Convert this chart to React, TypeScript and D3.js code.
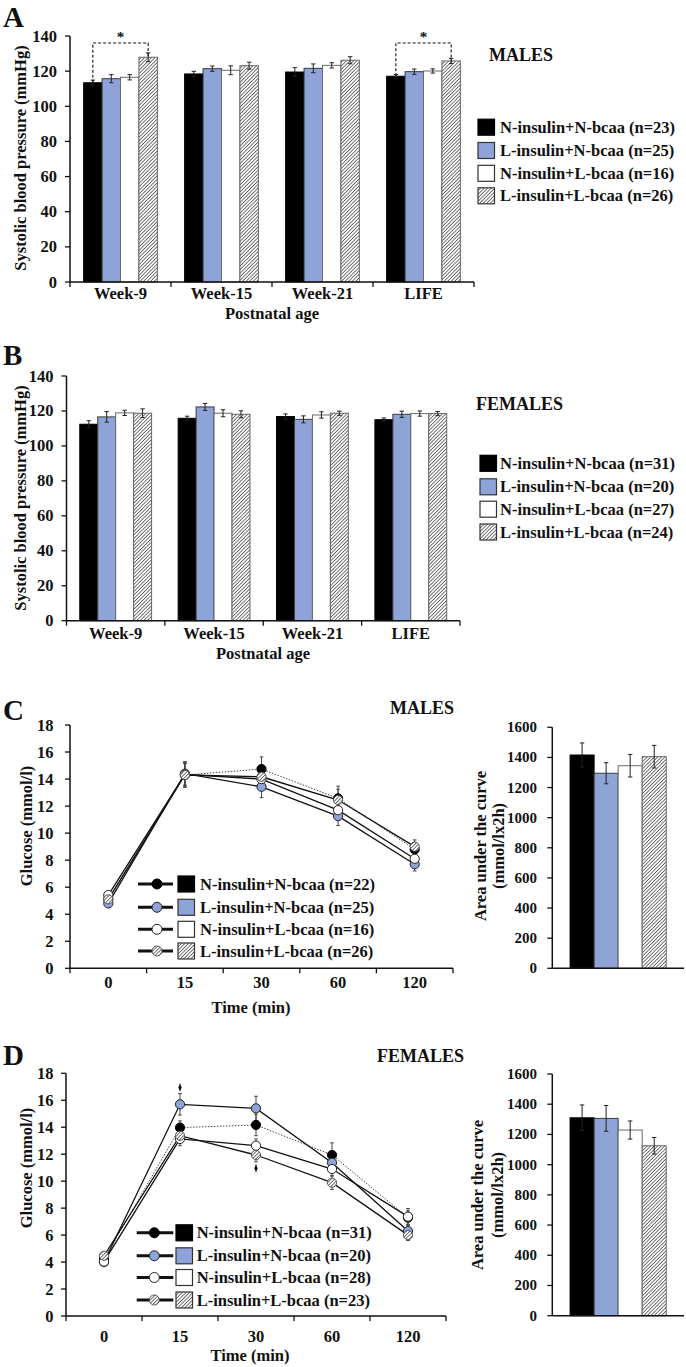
import React from "react";
import * as d3 from "d3";

// ---------------- DATA ----------------
const GROUPS = ["N-insulin+N-bcaa", "L-insulin+N-bcaa", "N-insulin+L-bcaa", "L-insulin+L-bcaa"];
const AGES = ["Week-9", "Week-15", "Week-21", "LIFE"];
const TIMES = ["0", "15", "30", "60", "120"];
const SBP_TICKS = [0, 20, 40, 60, 80, 100, 120, 140];
const GLU_TICKS = [0, 2, 4, 6, 8, 10, 12, 14, 16, 18];
const AUC_TICKS = [0, 200, 400, 600, 800, 1000, 1200, 1400, 1600];

const N_A = [23, 25, 16, 26];
const N_B = [31, 20, 27, 24];
const N_C = [22, 25, 16, 26];
const N_D = [31, 20, 28, 23];

// Panel A: males systolic blood pressure (per group, across AGES)
const A_NN = [113.4, 118.4, 119.5, 117.1];
const A_LN = [115.7, 121.4, 121.6, 119.7];
const A_NL = [116.5, 120.5, 123.3, 120.1];
const A_LL = [127.9, 123.1, 126.2, 125.8];
const A_NN_SE = [1.5, 1.5, 2.5, 1.0];
const A_LN_SE = [2.3, 1.5, 2.5, 1.5];
const A_NL_SE = [1.5, 2.5, 1.5, 1.2];
const A_LL_SE = [2.5, 2.0, 2.0, 1.5];
const A_SIG = [
  { age: "Week-9", level: 136 },
  { age: "LIFE", level: 136 },
];

// Panel B: females systolic blood pressure
const B_NN = [112.4, 115.8, 116.8, 115.0];
const B_LN = [116.6, 122.3, 115.2, 118.1];
const B_NL = [118.9, 118.7, 117.7, 118.5];
const B_LL = [118.7, 118.1, 118.7, 118.5];
const B_NN_SE = [2.0, 1.2, 1.5, 1.0];
const B_LN_SE = [3.0, 2.0, 2.0, 1.8];
const B_NL_SE = [1.5, 2.0, 1.8, 1.5];
const B_LL_SE = [2.5, 2.0, 1.2, 1.2];

// Panel C: males glucose tolerance (per group, across TIMES)
const C_NN = [5.1, 14.3, 14.74, 12.57, 8.8];
const C_LN = [4.8, 14.4, 13.43, 11.26, 7.7];
const C_NL = [5.42, 14.35, 14.0, 11.7, 8.1];
const C_LL = [5.1, 14.3, 14.17, 12.45, 9.0];
const C_NN_SE = [0.2, 0.9, 0.9, 0.9, 0.4];
const C_LN_SE = [0.2, 0.9, 0.8, 0.7, 0.5];
const C_NL_SE = [0.2, 0.8, 0.8, 0.7, 0.5];
const C_LL_SE = [0.2, 0.9, 0.7, 0.8, 0.5];
const C_AUC = [1416, 1295, 1345, 1405];
const C_AUC_SE = [80, 70, 75, 75];

// Panel D: females glucose tolerance
const D_NN = [4.2, 13.97, 14.17, 11.94, 7.3];
const D_LN = [4.0, 15.7, 15.4, 11.37, 6.3];
const D_NL = [4.03, 13.13, 12.63, 10.9, 7.37];
const D_LL = [4.47, 13.37, 11.94, 9.89, 6.0];
const D_NN_SE = [0.2, 0.5, 0.8, 0.9, 0.5];
const D_LN_SE = [0.2, 0.8, 0.9, 0.6, 0.4];
const D_NL_SE = [0.2, 0.5, 0.5, 0.5, 0.6];
const D_LL_SE = [0.2, 0.5, 0.5, 0.5, 0.4];
const D_SIG = [
  { time: "15", value: 16.94 },
  { time: "30", value: 10.96 },
];
const D_AUC = [1310, 1306, 1229, 1125];
const D_AUC_SE = [85, 85, 60, 55];

// ---------------- STYLE ----------------
const FONT = "'Liberation Serif','Times New Roman',Times,serif";
const FILLS = ["#000000", "#8ea3d8", "#ffffff", "url(#hatch)"];
const STROKES = ["#000000", "#3a3a3a", "#6a6a6a", "#666666"];

type TP = { x: number; y: number; s?: number; a?: string; b?: string; r?: number; w?: number; children: any };
function Txt({ x, y, s = 16.5, a = "start", b = "central", r = 0, w = 700, children }: TP) {
  return (
    <text
      x={x}
      y={y}
      fontSize={s}
      textAnchor={a as any}
      dominantBaseline={b as any}
      fontFamily={FONT}
      fontWeight={w}
      fill="#111"
      transform={r ? `rotate(${r},${x},${y})` : undefined}
    >
      {children}
    </text>
  );
}

function ErrBar({ x, y1, y2, cap = 2.2, stroke = "#222", sw = 1 }: any) {
  return (
    <g stroke={stroke} strokeWidth={sw}>
      <line x1={x} x2={x} y1={y1} y2={y2} />
      <line x1={x - cap} x2={x + cap} y1={y1} y2={y1} />
      <line x1={x - cap} x2={x + cap} y1={y2} y2={y2} />
    </g>
  );
}

// grouped bar chart
function BarPanel(p: any) {
  const { x0, x1, yT, yB, max, ticks, cats, series, errs, labelX, catY, sig, tickLen = 5, tickFs = 16.5, catTicks = true } = p;
  const y = d3.scaleLinear().domain([0, max]).range([yB, yT]);
  const x = d3.scaleBand<string>().domain(cats).range([x0, x1]).paddingInner(0.27).paddingOuter(0.135);
  const xi = d3.scaleBand<string>().domain(GROUPS).range([0, x.bandwidth()]);
  const step = x.step();
  const bx = (c: string, g: number) => (x(c) as number) + (xi(GROUPS[g]) as number);
  const bw = xi.bandwidth();
  return (
    <g>
      {series.map((vals: number[], g: number) =>
        cats.map((c: string, i: number) => (
          <rect
            key={g + "-" + i}
            x={bx(c, g)}
            y={y(vals[i])}
            width={bw}
            height={yB - y(vals[i])}
            fill={FILLS[g]}
            stroke={STROKES[g]}
            strokeWidth={1}
          />
        ))
      )}
      {series.map((vals: number[], g: number) =>
        cats.map((c: string, i: number) => (
          <ErrBar key={"e" + g + "-" + i} x={bx(c, g) + bw / 2} y1={y(vals[i] - errs[g][i])} y2={y(vals[i] + errs[g][i])} />
        ))
      )}
      {sig &&
        sig.map((s: any, k: number) => {
          const i = cats.indexOf(s.age);
          const xa = bx(s.age, 0) + bw / 2;
          const xb = bx(s.age, 3) + bw / 2;
          return (
            <g key={"s" + k}>
              <path
                d={`M${xa},${y(series[0][i])} V${y(s.level)} H${xb} V${y(series[3][i])}`}
                fill="none"
                stroke="#111"
                strokeWidth={1.1}
                strokeDasharray="3,2"
              />
              <Txt x={(xa + xb) / 2} y={y(s.level) - 6} s={15} a="middle">*</Txt>
            </g>
          );
        })}
      {/* axes */}
      <line x1={x0} x2={x0} y1={yT} y2={yB} stroke="#111" strokeWidth={1.5} />
      <line x1={x0} x2={x1} y1={yB} y2={yB} stroke="#111" strokeWidth={1.5} />
      {ticks.map((t: number) => (
        <g key={"t" + t}>
          <line x1={x0 - tickLen} x2={x0} y1={y(t)} y2={y(t)} stroke="#111" strokeWidth={1.3} />
          <Txt x={labelX} y={y(t)} a="end" s={tickFs}>{t}</Txt>
        </g>
      ))}
      {catTicks &&
        d3.range(cats.length + 1).map((k) => (
          <line key={"ct" + k} x1={x0 + k * step} x2={x0 + k * step} y1={yB} y2={yB + 5} stroke="#111" strokeWidth={1.3} />
        ))}
      {catY != null &&
        cats.map((c: string) => (
          <Txt key={"cl" + c} x={(x(c) as number) + x.bandwidth() / 2} y={catY} a="middle">{c}</Txt>
        ))}
    </g>
  );
}

function Marker({ cx, cy, g, r = 4.6 }: any) {
  return <circle cx={cx} cy={cy} r={r} fill={FILLS[g]} stroke={g === 0 ? "#000" : g === 3 ? "#555" : "#222"} strokeWidth={1} />;
}

function LinePanel(p: any) {
  const { x0, x1, yT, yB, series, errs, labelX, catY, sig } = p;
  const y = d3.scaleLinear().domain([0, 18]).range([yB, yT]);
  const x = d3.scaleBand<string>().domain(TIMES).range([x0, x1]);
  const cx = (t: string) => (x(t) as number) + x.bandwidth() / 2;
  const line = d3
    .line<number>()
    .x((_, i) => cx(TIMES[i]))
    .y((d) => y(d));
  return (
    <g>
      <line x1={x0} x2={x0} y1={yT} y2={yB} stroke="#111" strokeWidth={1.5} />
      <line x1={x0} x2={x1} y1={yB} y2={yB} stroke="#111" strokeWidth={1.5} />
      {GLU_TICKS.map((t) => (
        <g key={"t" + t}>
          <line x1={x0 - 5} x2={x0} y1={y(t)} y2={y(t)} stroke="#111" strokeWidth={1.3} />
          <Txt x={labelX} y={y(t)} a="end">{t}</Txt>
        </g>
      ))}
      {d3.range(TIMES.length + 1).map((k) => (
        <line key={"ct" + k} x1={x0 + k * x.step()} x2={x0 + k * x.step()} y1={yB} y2={yB + 5} stroke="#111" strokeWidth={1.3} />
      ))}
      {TIMES.map((t) => (
        <Txt key={"tl" + t} x={cx(t)} y={catY} a="middle">{t}</Txt>
      ))}
      {series.map((vals: number[], g: number) =>
        vals.map((v, i) => (
          <ErrBar key={"e" + g + i} x={cx(TIMES[i])} y1={y(v - errs[g][i])} y2={y(v + errs[g][i])} cap={1.8} stroke="#444" sw={1} />
        ))
      )}
      {series.map((vals: number[], g: number) => (
        <path
          key={"l" + g}
          d={line(vals) as string}
          fill="none"
          stroke={g === 0 ? "#444" : "#111"}
          strokeWidth={g === 0 ? 1 : 1.3}
          strokeDasharray={g === 0 ? "1.5,1.5" : undefined}
        />
      ))}
      {series.map((vals: number[], g: number) =>
        vals.map((v, i) => <Marker key={"m" + g + i} cx={cx(TIMES[i])} cy={y(v)} g={g} />)
      )}
      {sig &&
        sig.map((s: any, k: number) => (
          <path
            key={"d" + k}
            d={d3.symbol(d3.symbolDiamond, 14)() as string}
            transform={`translate(${cx(s.time)},${y(s.value)}) scale(0.8,1.3)`}
            fill="#111"
          />
        ))}
    </g>
  );
}

function BarLegend({ sx, tx, rows, ns }: any) {
  return (
    <g>
      {GROUPS.map((g, i) => (
        <g key={g}>
          <rect x={sx} y={rows[i] - 8} width={16.5} height={16} fill={FILLS[i]} stroke={i === 0 ? "#000" : "#333"} strokeWidth={1.2} />
          <Txt x={tx} y={rows[i]}>{`${g} (n=${ns[i]})`}</Txt>
        </g>
      ))}
    </g>
  );
}

function LineLegend({ lx0, lx1, mx, sx, tx, rows, ns }: any) {
  return (
    <g>
      {GROUPS.map((g, i) => (
        <g key={g}>
          <line x1={lx0} x2={lx1} y1={rows[i]} y2={rows[i]} stroke="#111" strokeWidth={3} />
          <Marker cx={mx} cy={rows[i]} g={i} r={5} />
          <rect x={sx} y={rows[i] - 8} width={16.5} height={16} fill={FILLS[i]} stroke={i === 0 ? "#000" : "#333"} strokeWidth={1.2} />
          <Txt x={tx} y={rows[i]}>{`${g} (n=${ns[i]})`}</Txt>
        </g>
      ))}
    </g>
  );
}

export default function App() {
  return (
    <svg
      width={686}
      height={1367}
      viewBox="0 0 686 1367"
      style={{ position: "absolute", left: 0, top: 0, background: "#fff" }}
    >
      <defs>
        <pattern id="hatch" patternUnits="userSpaceOnUse" width={2.5} height={2.5} patternTransform="rotate(45)">
          <rect width={2.5} height={2.5} fill="#ffffff" />
          <line x1={0} y1={0} x2={0} y2={2.5} stroke="#2a2a2a" strokeWidth={1.3} />
        </pattern>
      </defs>
      <rect width={686} height={1367} fill="#fff" />

      {/* ---------- Panel A ---------- */}
      <Txt x={3} y={27} s={29} b="auto">A</Txt>
      <BarPanel
        x0={70} x1={474} yT={36} yB={282} max={140} ticks={SBP_TICKS} cats={AGES}
        series={[A_NN, A_LN, A_NL, A_LL]} errs={[A_NN_SE, A_LN_SE, A_NL_SE, A_LL_SE]}
        labelX={57} catY={293} sig={A_SIG}
      />
      <Txt x={272} y={313} a="middle">Postnatal age</Txt>
      <Txt x={20} y={158} a="middle" r={-90}>Systolic blood pressure (mmHg)</Txt>
      <Txt x={489} y={55} s={18}>MALES</Txt>
      <BarLegend sx={478} tx={500} rows={[127.2, 150.5, 173.3, 195.8]} ns={N_A} />

      {/* ---------- Panel B ---------- */}
      <Txt x={3} y={365} s={29} b="auto">B</Txt>
      <BarPanel
        x0={66.5} x1={460} yT={376} yB={620.7} max={140} ticks={SBP_TICKS} cats={AGES}
        series={[B_NN, B_LN, B_NL, B_LL]} errs={[B_NN_SE, B_LN_SE, B_NL_SE, B_LL_SE]}
        labelX={53.5} catY={633}
      />
      <Txt x={263} y={653} a="middle">Postnatal age</Txt>
      <Txt x={20} y={498} a="middle" r={-90}>Systolic blood pressure (mmHg)</Txt>
      <Txt x={476} y={404} s={18}>FEMALES</Txt>
      <BarLegend sx={480} tx={500} rows={[463.3, 486.8, 509.2, 532]} ns={N_B} />

      {/* ---------- Panel C ---------- */}
      <Txt x={3} y={720} s={29} b="auto">C</Txt>
      <LinePanel
        x0={70} x1={453} yT={725} yB={968.3}
        series={[C_NN, C_LN, C_NL, C_LL]} errs={[C_NN_SE, C_LN_SE, C_NL_SE, C_LL_SE]}
        labelX={53.5} catY={982}
      />
      <Txt x={251} y={1007} a="middle">Time (min)</Txt>
      <Txt x={26} y={826} a="middle" r={-90}>Glucose (mmol/l)</Txt>
      <Txt x={390} y={707.5} s={18}>MALES</Txt>
      <LineLegend lx0={138} lx1={173} mx={157} sx={178} tx={200} rows={[884, 907.3, 929.3, 951]} ns={N_C} />
      <BarPanel
        x0={552.3} x1={684} yT={727.3} yB={968.3} max={1600} ticks={AUC_TICKS} cats={["AUC"]}
        series={C_AUC.map((v) => [v])} errs={C_AUC_SE.map((v) => [v])}
        labelX={537} catY={null} catTicks={false} tickFs={15}
      />
      <Txt x={480} y={846} a="middle" r={-90}>Area under the curve</Txt>
      <Txt x={498} y={846} a="middle" r={-90}>(mmol/lx2h)</Txt>

      {/* ---------- Panel D ---------- */}
      <Txt x={3} y={1065} s={29} b="auto">D</Txt>
      <LinePanel
        x0={66} x1={446} yT={1073.3} yB={1316}
        series={[D_NN, D_LN, D_NL, D_LL]} errs={[D_NN_SE, D_LN_SE, D_NL_SE, D_LL_SE]}
        labelX={53.5} catY={1336.7} sig={D_SIG}
      />
      <Txt x={250} y={1355.7} a="middle">Time (min)</Txt>
      <Txt x={26} y={1168} a="middle" r={-90}>Glucose (mmol/l)</Txt>
      <Txt x={377} y={1056} s={18}>FEMALES</Txt>
      <LineLegend lx0={136.7} lx1={173.3} mx={154.3} sx={176} tx={196.7} rows={[1232.8, 1255.8, 1277.5, 1300]} ns={N_D} />
      <BarPanel
        x0={552.3} x1={684} yT={1074} yB={1315.7} max={1600} ticks={AUC_TICKS} cats={["AUC"]}
        series={D_AUC.map((v) => [v])} errs={D_AUC_SE.map((v) => [v])}
        labelX={537} catY={null} catTicks={false} tickFs={15}
      />
      <Txt x={477} y={1195} a="middle" r={-90}>Area under the curve</Txt>
      <Txt x={497} y={1195} a="middle" r={-90}>(mmol/lx2h)</Txt>
    </svg>
  );
}
